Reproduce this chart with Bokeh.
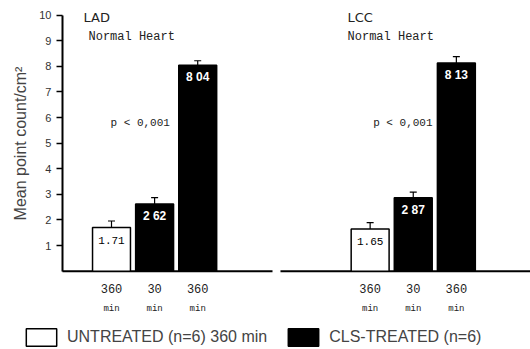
from bokeh.plotting import figure
from bokeh.models import (Range1d, LinearAxis, FixedTicker, ColumnDataSource, Whisker,
                          TeeHead, Legend, LegendItem)
from bokeh.core.properties import value
from bokeh.embed import file_html
from bokeh.resources import INLINE

# ---- data ----
panels = ["LAD", "LCC"]
subtitles = ["Normal Heart", "Normal Heart"]
p_texts = ["p < 0,001", "p < 0,001"]
time_labels = ["360", "30", "360"]
unit_labels = ["min", "min", "min"]
untreated_360 = [1.71, 1.65]
untreated_360_err = [0.25, 0.25]
treated_30 = [2.62, 2.87]
treated_30_err = [0.25, 0.22]
treated_360 = [8.04, 8.13]
treated_360_err = [0.18, 0.25]
untreated_texts = ["1.71", "1.65"]
treated_30_texts = ["2 62", "2 87"]
treated_360_texts = ["8 04", "8 13"]
y_ticks = [1, 2, 3, 4, 5, 6, 7, 8, 9, 10]
legend_labels = ["UNTREATED (n=6) 360 min", "CLS-TREATED (n=6)"]

PANEL_STEP = 6
BAR_W = 0.88

def pos(panel_i, cond_i):
    return panel_i * PANEL_STEP + cond_i + 1

u_src = ColumnDataSource(dict(
    x=[pos(i, 0) for i in range(2)], top=untreated_360,
    up=[v + e for v, e in zip(untreated_360, untreated_360_err)],
    txt=untreated_texts))
t_src = ColumnDataSource(dict(
    x=[pos(i, 1) for i in range(2)] + [pos(i, 2) for i in range(2)],
    top=treated_30 + treated_360,
    up=[v + e for v, e in zip(treated_30 + treated_360, treated_30_err + treated_360_err)],
    txt=treated_30_texts + treated_360_texts))

x_start, x_end = -1.575, 10.72
axis_x = -0.137
y_start, y_end = -3.059, 10.574
p = figure(width=530, height=349, output_backend="svg", toolbar_location=None,
           x_range=Range1d(x_start, x_end), y_range=Range1d(y_start, y_end),
           min_border=0, x_axis_location=None, y_axis_location=None)
p.outline_line_color = None
p.grid.visible = False
p.border_fill_color = "white"
p.background_fill_color = "white"

# y axis drawn at a fixed location inside the frame
ya = LinearAxis(fixed_location=axis_x, ticker=FixedTicker(ticks=y_ticks), bounds=(0, 10))
ya.minor_tick_line_color = None
ya.axis_line_width = 2
ya.major_tick_line_width = 1.5
ya.major_tick_out = 6
ya.major_tick_in = 0
ya.major_label_standoff = 5
ya.major_label_text_font = "Liberation Sans"
ya.major_label_text_font_size = "11px"
ya.major_label_text_color = "#333333"
ya.axis_label = "Mean point count/cm²"
ya.axis_label_text_font = "Liberation Sans"
ya.axis_label_text_font_style = "normal"
ya.axis_label_text_font_size = "16px"
ya.axis_label_standoff = 7
p.add_layout(ya, "left")

# x axes: time labels and unit labels, fixed at the baseline
all_x = [pos(i, c) for i in range(2) for c in range(3)]
xa1 = LinearAxis(fixed_location=0, ticker=FixedTicker(ticks=all_x),
                 major_label_overrides={x: time_labels[k % 3] for k, x in enumerate(all_x)})
xa2 = LinearAxis(fixed_location=0, ticker=FixedTicker(ticks=all_x),
                 major_label_overrides={x: unit_labels[k % 3] for k, x in enumerate(all_x)})
for ax, fs, so in ((xa1, "12px", 7), (xa2, "9px", 27)):
    ax.axis_line_color = None
    ax.major_tick_line_color = None
    ax.minor_tick_line_color = None
    ax.major_label_standoff = so
    ax.major_label_text_font = "Liberation Mono"
    ax.major_label_text_font_size = fs
    ax.major_label_text_color = "#222222"
    p.add_layout(ax, "below")

# baseline (two pieces, one per panel)
p.segment(x0=[axis_x, 4.92], y0=[0, 0], x1=[4.735, x_end], y1=[0, 0],
          line_color="black", line_width=2)

# bars
r_u = p.vbar(x="x", top="top", bottom=0, width=BAR_W, source=u_src,
             fill_color="white", line_color="black", line_width=1.5)
r_t = p.vbar(x="x", top="top", bottom=0, width=BAR_W, source=t_src,
             fill_color="black", line_color="black", line_width=1.5)

for src in (u_src, t_src):
    p.add_layout(Whisker(source=src, base="x", lower="top", upper="up",
                         lower_head=None, upper_head=TeeHead(size=7, line_width=1.2),
                         line_width=1.2, line_color="black"))

p.text(x="x", y="top", text="txt", source=u_src, text_align="center",
       text_baseline="middle", y_offset=13, text_font=value("Liberation Mono"),
       text_font_size="11px", text_color="black")
p.text(x="x", y="top", text="txt", source=t_src, text_align="center",
       text_baseline="middle", y_offset=12, text_font=value("Liberation Sans"),
       text_font_style="bold", text_font_size="12px", text_color="white")

# panel titles and annotations
p.text(x=[0.35, 6.476], y=[9.9, 9.9], text=panels, text_align="left", text_baseline="middle",
       text_font=value("DejaVu Sans"), text_font_size="13px", text_color="#222222")
p.text(x=[0.466, 6.476], y=[9.13, 9.13], text=subtitles, text_align="left",
       text_baseline="middle", text_font=value("Liberation Mono"),
       text_font_size="12px", text_color="#222222")
p.text(x=[0.977, 7.07], y=[5.77, 5.77], text=p_texts, text_align="left",
       text_baseline="middle", text_font=value("Liberation Mono"),
       text_font_size="11px", text_color="#222222")

legend = Legend(items=[LegendItem(label=legend_labels[0], renderers=[r_u]),
                       LegendItem(label=legend_labels[1], renderers=[r_t])],
                location=(22, 1), orientation="horizontal",
                glyph_width=38, glyph_height=22, label_standoff=7, spacing=17,
                padding=0, margin=0, border_line_color=None, background_fill_alpha=0,
                label_text_font="Liberation Sans", label_text_font_size="16px",
                label_height=22)
p.add_layout(legend, "center")

open("out.html", "w").write(file_html(p, INLINE))
